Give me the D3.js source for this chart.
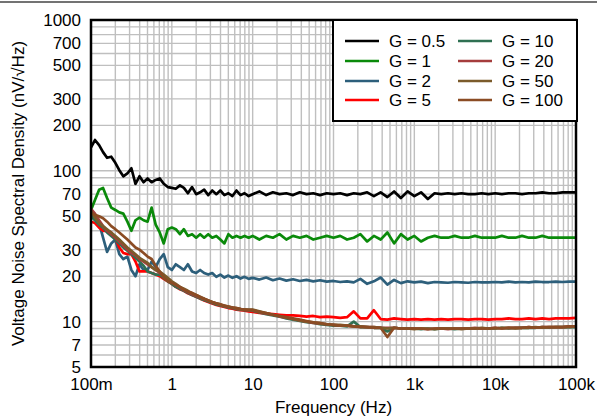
<!DOCTYPE html>
<html>
<head>
<meta charset="utf-8">
<script src="https://cdn.jsdelivr.net/npm/d3@7"></script>
<style>
  html, body { margin: 0; padding: 0; background: #fff; }
  svg { display: block; font-family: "Liberation Sans", Arial, sans-serif; }
</style>
</head>
<body>
<svg id="chart" width="597" height="418"></svg>
<script>
// ---------------- DATA ----------------
const freqs = [
  0.1, 0.112, 0.126, 0.141, 0.158, 0.178, 0.2, 0.224, 0.251, 0.282, 0.316, 0.355, 0.398, 0.447, 0.501, 0.562, 0.631, 0.708, 0.794, 0.891,
  1, 1.12, 1.26, 1.41, 1.58, 1.78, 2, 2.24, 2.51, 2.82, 3.16, 3.55, 3.98, 4.47, 5.01, 5.62, 6.31, 7.08, 7.94, 8.91,
  10, 12.1, 14.7, 17.8, 21.5, 26.1, 31.6, 38.3, 46.4, 56.2, 68.1, 82.5,
  100, 121, 147, 178, 215, 261, 316, 383, 464, 562, 681, 825,
  1000, 1210, 1470, 1780, 2150, 2610, 3160, 3830, 4640, 5620, 6810, 8250,
  10000, 12100, 14700, 17800, 21500, 26100, 31600, 38300, 46400, 56200, 68100, 82500,
  100000
];

const g0_5 = [
  143, 160, 148, 133, 122, 124, 113, 101, 92, 96, 104, 82, 92, 84, 89, 84, 87, 89, 82, 78,
  77, 76, 80, 77, 71, 78, 70, 72, 75, 69, 74, 70, 74, 69, 71, 68, 74, 69, 71, 68,
  70, 73, 69, 72, 70, 71, 69, 72, 70, 71, 69, 71,
  70, 71, 69, 71, 70, 72, 68, 72, 67, 73, 66, 73,
  68, 72, 65, 71, 70, 71, 70, 71, 70, 70, 71, 70,
  71, 70, 71, 71, 70, 71, 71, 72, 71, 71, 72, 72,
  72
];
const g1 = [
  55, 64, 75, 77, 66, 57, 55, 53, 52, 46, 40, 47, 49, 47, 46, 57, 44, 39, 33, 41,
  42, 41, 38, 41, 37, 38, 36, 38, 36, 38, 36, 37, 35, 33, 38, 36, 37, 36, 37, 36,
  37, 35, 37, 36, 38, 35, 37, 36, 37, 35, 36, 37,
  36, 37, 35, 36, 38, 34, 37, 35, 39, 33, 38, 35,
  37, 34, 36, 37, 36, 36, 37, 36, 36, 37, 36, 36,
  36, 37, 36, 36, 37, 36, 36, 37, 36, 36, 36, 36,
  36
];
const g2 = [
  52, 49, 45, 36, 29, 33, 35, 28, 26, 27, 22, 20, 24, 22, 22, 25, 23, 26, 28, 23,
  22, 24, 23, 22, 24, 21.5, 21, 22, 21, 20.5, 21, 19.8, 20.5, 19.6, 20.2, 19.5, 20, 19.3, 19.8, 19.2,
  19.5, 19, 19.6, 18.8, 19.3, 18.7, 19.1, 18.6, 18.9, 18.5, 18.8, 18.4,
  18.6, 18.3, 18.5, 18.2, 19.2, 17.8, 18.5, 19.6, 17.6, 18.9, 18.0, 18.5,
  18.2, 18.4, 18.0, 18.3, 18.2, 18.1, 18.3, 18.2, 18.1, 18.3, 18.2, 18.2,
  18.3, 18.2, 18.4, 18.2, 18.3, 18.2, 18.4, 18.3, 18.3, 18.4, 18.3, 18.4,
  18.4
];
const g5 = [
  46, 45, 42, 40, 40, 39, 36, 31, 28.5, 28, 28, 25, 21.5, 21.5, 21.5, 21, 20.5, 20, 19.2, 18.5,
  17.8, 17, 16.4, 16, 15.4, 15, 14.6, 14.2, 13.8, 13.5, 13.2, 12.9, 12.7, 12.5, 12.3, 12.2, 12, 11.9, 11.8, 11.7,
  11.6, 11.4, 11.3, 11.2, 11.1, 11.0, 11.0, 10.9, 10.8, 10.9, 10.7, 10.8,
  10.7, 10.6, 10.7, 11.7, 10.5, 10.5, 11.9, 10.4, 10.3, 10.5, 10.4, 10.3,
  10.4, 10.3, 10.4, 10.3, 10.4, 10.3, 10.4, 10.4, 10.3, 10.4, 10.4, 10.3,
  10.4, 10.4, 10.5, 10.4, 10.4, 10.5, 10.4, 10.5, 10.4, 10.5, 10.5, 10.5,
  10.6
];
const g10 = [
  50, 47, 44, 42, 39, 37, 35, 33, 31, 29.5, 28, 26.5, 25, 23.5, 21.5, 21, 20.5, 20.5, 19.5, 18.5,
  17.8, 17, 16.5, 16, 15.5, 15, 14.6, 14.2, 13.9, 13.6, 13.3, 13, 12.8, 12.6, 12.4, 12.3, 12.1, 12, 11.9, 11.9,
  11.8, 11.5, 11.2, 11.0, 10.8, 10.5, 10.3, 10.1, 9.9, 9.8, 9.6, 9.5,
  9.4, 9.4, 9.3, 10.0, 9.2, 9.2, 9.1, 9.1, 8.6, 9.1, 9.0, 9.0,
  9.0, 8.9, 9.0, 8.9, 9.0, 9.0, 8.9, 9.0, 9.0, 9.0, 9.0, 9.0,
  9.0, 9.1, 9.0, 9.1, 9.1, 9.1, 9.1, 9.2, 9.1, 9.2, 9.2, 9.2,
  9.2
];
const g20 = [
  56, 52, 47, 43, 40, 38, 36, 34, 32, 30, 28.5, 27.5, 26, 25, 24, 23, 22, 21, 20, 19,
  18.2, 17.5, 16.8, 16.2, 15.7, 15.2, 14.8, 14.4, 14.1, 13.8, 13.4, 13.2, 12.9, 12.7, 12.5, 12.4, 12.2, 12.1, 12, 11.9,
  11.9, 11.6, 11.3, 11.1, 10.8, 10.6, 10.4, 10.2, 10.0, 9.8, 9.7, 9.6,
  9.5, 9.4, 9.4, 9.3, 9.3, 9.2, 9.2, 9.1, 9.1, 9.1, 9.0, 9.0,
  9.0, 9.0, 8.9, 9.0, 9.0, 8.9, 9.0, 9.0, 9.0, 9.1, 9.0, 9.0,
  9.1, 9.0, 9.1, 9.1, 9.1, 9.2, 9.1, 9.2, 9.2, 9.2, 9.2, 9.3,
  9.3
];
const g50 = [
  54, 49, 45, 43, 41, 39, 37, 35, 33, 31, 29.5, 28, 26.5, 25.5, 24.5, 23, 22, 21.5, 20.5, 19.5,
  18.5, 17.8, 17, 16.5, 16, 15.4, 15, 14.5, 14.2, 13.8, 13.5, 13.2, 13, 12.7, 12.6, 12.4, 12.3, 12.1, 12, 12,
  12.0, 11.7, 11.4, 11.1, 10.9, 10.6, 10.4, 10.2, 10.0, 9.9, 9.7, 9.6,
  9.5, 9.5, 9.4, 9.3, 9.3, 9.2, 9.2, 9.1, 9.0, 9.1, 9.0, 9.0,
  8.9, 9.0, 9.0, 8.9, 9.0, 9.0, 9.0, 8.9, 9.0, 9.0, 9.1, 9.0,
  9.0, 9.1, 9.1, 9.0, 9.1, 9.1, 9.2, 9.1, 9.2, 9.2, 9.2, 9.2,
  9.3
];
const g100 = [
  53, 51, 50, 48.5, 46, 43, 41, 39, 37, 35, 33, 31, 30, 28.5, 27, 26, 23.5, 21.5, 19.5, 18.5,
  18, 17.5, 17, 16.3, 15.8, 15.5, 15, 14.6, 14.2, 13.8, 13.5, 13.2, 13, 12.8, 12.6, 12.4, 12.3, 12.1, 12, 11.9,
  11.9, 11.6, 11.4, 11.1, 10.9, 10.7, 10.5, 10.3, 10.1, 9.9, 9.8, 9.6,
  9.5, 9.4, 9.4, 9.3, 9.2, 9.2, 9.1, 9.1, 7.9, 9.1, 9.0, 9.0,
  9.0, 9.0, 8.9, 9.0, 9.0, 9.0, 9.0, 9.0, 9.0, 9.0, 9.0, 9.0,
  9.1, 9.0, 9.1, 9.1, 9.1, 9.2, 9.1, 9.2, 9.2, 9.2, 9.2, 9.3,
  9.3
];

const seriesNames = ["G = 0.5", "G = 1", "G = 2", "G = 5", "G = 10", "G = 20", "G = 50", "G = 100"];
const seriesValues = [g0_5, g1, g2, g5, g10, g20, g50, g100];
const seriesColors = ["#000000", "#0a8a0a", "#2d5f7b", "#ff0000", "#2f7052", "#a53d3d", "#7b5b2b", "#8b4c24"];

const xTicks = [0.1, 1, 10, 100, 1000, 10000, 100000];
const xTickLabels = ["100m", "1", "10", "100", "1k", "10k", "100k"];
const yTicks = [5, 7, 10, 20, 30, 50, 70, 100, 200, 300, 500, 700, 1000];
const yTickLabels = ["5", "7", "10", "20", "30", "50", "70", "100", "200", "300", "500", "700", "1000"];

// ---------------- CHART ----------------
const svg = d3.select("#chart");
const W = 597, H = 418;
const L = 91, R = 576, T = 20, B = 367;

const x = d3.scaleLog().domain([0.1, 100000]).range([L, R]);
const y = d3.scaleLog().domain([5, 1000]).range([B, T]);

// top rule
svg.append("line").attr("x1", 0).attr("x2", W).attr("y1", 2).attr("y2", 2)
  .attr("stroke", "#444").attr("stroke-width", 1.5);

// grid
const xGrid = [];
for (let d = 0.1; d < 100000 * 1.01; d *= 10) {
  for (let m = 1; m <= 9; m++) { const v = d * m; if (v <= 100000 * 1.0001) xGrid.push(v); }
}
const yGrid = [];
for (let d = 1; d <= 1000; d *= 10) {
  for (let m = 1; m <= 9; m++) { const v = d * m; if (v >= 5 * 0.999 && v <= 1000 * 1.0001) yGrid.push(v); }
}
const grid = svg.append("g").attr("stroke", "#bfbfbf").attr("stroke-width", 1.4);
grid.selectAll("line.vx").data(xGrid).join("line")
  .attr("x1", d => x(d)).attr("x2", d => x(d)).attr("y1", T).attr("y2", B);
grid.selectAll("line.hy").data(yGrid).join("line")
  .attr("x1", L).attr("x2", R).attr("y1", d => y(d)).attr("y2", d => y(d));

// clip
svg.append("clipPath").attr("id", "clip").append("rect")
  .attr("x", L).attr("y", T).attr("width", R - L).attr("height", B - T);

const line = d3.line()
  .x((d, i) => x(freqs[i]))
  .y(d => y(d));

const lines = svg.append("g").attr("clip-path", "url(#clip)");
seriesValues.forEach((vals, k) => {
  lines.append("path")
    .attr("d", line(vals))
    .attr("fill", "none")
    .attr("stroke", seriesColors[k])
    .attr("stroke-width", 2.7)
    .attr("stroke-linejoin", "round");
});

// frame
svg.append("rect").attr("x", L).attr("y", T).attr("width", R - L).attr("height", B - T)
  .attr("fill", "none").attr("stroke", "#000").attr("stroke-width", 2.5);

// axes
const xAxis = d3.axisBottom(x).tickValues(xTicks)
  .tickFormat((d, i) => xTickLabels[i]).tickSize(0).tickPadding(11);
const gx = svg.append("g").attr("transform", `translate(0,${B})`).call(xAxis);
gx.select(".domain").remove();
gx.selectAll("text").attr("font-size", 17).attr("fill", "#000")
  .attr("font-family", "Liberation Sans, Arial, sans-serif");

const yAxis = d3.axisLeft(y).tickValues(yTicks)
  .tickFormat((d, i) => yTickLabels[i]).tickSize(0).tickPadding(10);
const gy = svg.append("g").attr("transform", `translate(${L},0)`).call(yAxis);
gy.select(".domain").remove();
gy.selectAll("text").attr("font-size", 17).attr("fill", "#000")
  .attr("font-family", "Liberation Sans, Arial, sans-serif");

// axis titles
svg.append("text").attr("x", (L + R) / 2).attr("y", 413)
  .attr("text-anchor", "middle").attr("font-size", 17).attr("fill", "#000")
  .text("Frequency (Hz)");
svg.append("text").attr("transform", `translate(24,${(T + B) / 2}) rotate(-90)`)
  .attr("text-anchor", "middle").attr("font-size", 17).attr("fill", "#000")
  .text("Voltage Noise Spectral Density (nV/\u221AHz)");

// legend
const lg = svg.append("g");
lg.append("rect").attr("x", 333).attr("y", 20).attr("width", 244).attr("height", 101)
  .attr("fill", "#fff").attr("stroke", "#000").attr("stroke-width", 2);
const rowY = [41, 61, 81, 100];
seriesNames.forEach((name, k) => {
  const col = Math.floor(k / 4), row = k % 4;
  const x0 = col === 0 ? 345 : 458;
  const yy = rowY[row];
  lg.append("line").attr("x1", x0).attr("x2", x0 + 34).attr("y1", yy).attr("y2", yy)
    .attr("stroke", seriesColors[k]).attr("stroke-width", 2.5);
  lg.append("text").attr("x", x0 + 44).attr("y", yy).attr("dy", "0.35em")
    .attr("font-size", 17).attr("fill", "#000").text(name);
});
</script>
</body>
</html>
